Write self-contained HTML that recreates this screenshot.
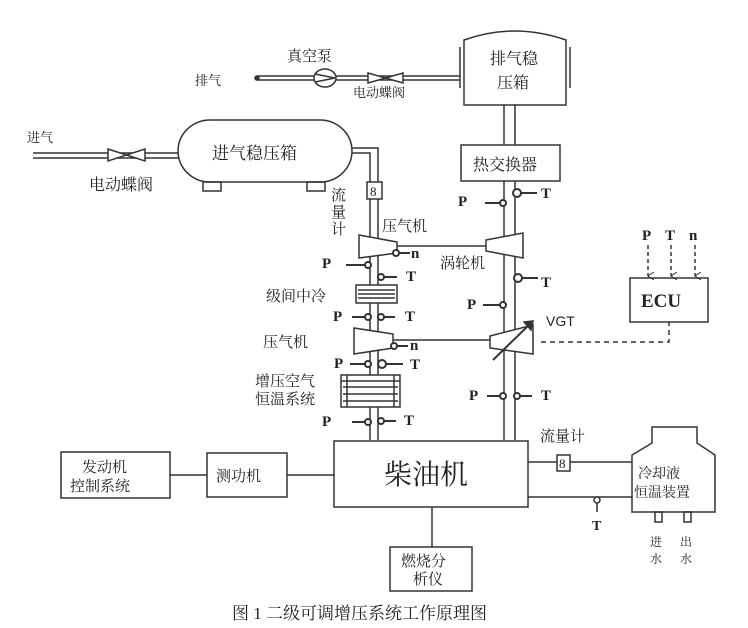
<!DOCTYPE html>
<html><head><meta charset="utf-8"><style>
html,body{margin:0;padding:0;background:#fff;}
svg{display:block;}
text{font-family:"Liberation Serif","Noto Serif CJK SC","Noto Sans CJK SC",serif;fill:#222;}
.b{font-family:"Liberation Serif",serif;font-weight:bold;}
</style></head><body>
<svg width="748" height="628" viewBox="0 0 748 628" xmlns="http://www.w3.org/2000/svg">
<defs>
<marker id="ah" markerWidth="8" markerHeight="8" refX="4" refY="6" orient="auto" markerUnits="userSpaceOnUse">
<path d="M0,0 L4,6 L8,0" fill="none" stroke="#333" stroke-width="1"/></marker>
</defs>
<g stroke="#333" stroke-width="1.5" fill="none">
<line x1="33" y1="153" x2="178" y2="153"/><line x1="33" y1="158" x2="178" y2="158"/>
<path d="M108,149 L145,161 L145,149 L108,161 Z" fill="#fff"/>
<path d="M210,120 L320,120 A32,31 0 0 1 320,182 L210,182 A32,31 0 0 1 210,120 Z" fill="#fff"/>
<rect x="203" y="182" width="18" height="9"/><rect x="307" y="182" width="18" height="9"/>
<path d="M352,148 L378,148 L378,440"/><path d="M352,153 L370,153 L370,440"/>
<rect x="367" y="182" width="15" height="17" fill="#fff"/>
<line x1="257" y1="76" x2="460" y2="76"/><line x1="257" y1="80" x2="460" y2="80"/>
<circle cx="257" cy="78" r="2" fill="#333"/>
<ellipse cx="325" cy="78" rx="11" ry="9" fill="#fff"/><path d="M315,74 L335,78 L315,82"/>
<path d="M368,73 L403,83 L403,73 L368,83 Z" fill="#fff"/>
<path d="M464,105 L464,40 Q514,22 566,40 L566,105 Z" fill="#fff"/>
<line x1="460" y1="47" x2="460" y2="88"/><line x1="570" y1="47" x2="570" y2="88"/>
<line x1="504" y1="105" x2="504" y2="145"/><line x1="515" y1="105" x2="515" y2="145"/>
<rect x="461" y="145" width="99" height="36" fill="#fff"/>
<line x1="504" y1="181" x2="504" y2="440"/><line x1="515" y1="181" x2="515" y2="440"/>
<line x1="397" y1="246" x2="486" y2="246"/>
<path d="M359,235 L397,242 L397,253 L359,258 Z" fill="#fff"/>
<path d="M486,240 L523,233 L523,258 L486,251 Z" fill="#fff"/>
<rect x="356" y="285" width="41" height="18" fill="#fff"/>
<line x1="358" y1="290" x2="395" y2="290"/><line x1="358" y1="294" x2="395" y2="294"/><line x1="358" y1="298" x2="395" y2="298"/>
<line x1="393" y1="340" x2="490" y2="340"/>
<path d="M354,328 L393,334 L393,348 L354,354 Z" fill="#fff"/>
<path d="M490,336 L533,325 L533,354 L490,348 Z" fill="#fff"/>
<line x1="493" y1="360" x2="530" y2="324" stroke-width="2"/>
<path d="M524,322 L533,321 L531,330 Z" fill="#333"/>
<path d="M541,342 L669,342 L669,322" stroke-dasharray="5,4"/>
<rect x="341" y="375" width="59" height="32" fill="#fff"/>
<line x1="341" y1="381" x2="400" y2="381"/><line x1="343" y1="387" x2="398" y2="387"/><line x1="343" y1="394" x2="398" y2="394"/><line x1="343" y1="401" x2="398" y2="401"/>
<line x1="347" y1="375" x2="347" y2="407"/><line x1="394" y1="375" x2="394" y2="407"/>
<rect x="630" y="278" width="78" height="44"/>
<line x1="648" y1="245" x2="648" y2="276" stroke-dasharray="4,3" marker-end="url(#ah)"/>
<line x1="671" y1="245" x2="671" y2="276" stroke-dasharray="4,3" marker-end="url(#ah)"/>
<line x1="695" y1="245" x2="695" y2="276" stroke-dasharray="4,3" marker-end="url(#ah)"/>
<rect x="334" y="441" width="194" height="66" fill="#fff"/>
<rect x="61" y="452" width="109" height="46"/>
<rect x="207" y="453" width="80" height="44"/>
<line x1="170" y1="475" x2="207" y2="475"/><line x1="287" y1="475" x2="334" y2="475"/>
<line x1="432" y1="507" x2="432" y2="547"/>
<rect x="390" y="547" width="82" height="44"/>
<line x1="528" y1="462" x2="632" y2="462"/><rect x="557" y="455" width="13" height="16" fill="#fff"/>
<line x1="528" y1="497" x2="632" y2="497"/>
<line x1="597" y1="497" x2="597" y2="512"/><circle cx="597" cy="500" r="3" fill="#fff"/>
<path d="M652,427 L697,427 L697,443 L715,455 L715,512 L632,512 L632,455 L652,443 Z" fill="#fff"/>
<rect x="655" y="512" width="7" height="10"/><rect x="684" y="512" width="7" height="10"/>
</g>
<g stroke="#333" stroke-width="2" fill="#fff">
<path d="M346,265 L368,265"/><circle cx="368" cy="265" r="3"/>
<path d="M381,277 L397,277"/><circle cx="381" cy="277" r="3"/>
<path d="M395,253 L410,253"/><circle cx="396" cy="253" r="3"/>
<path d="M352,317 L368,317"/><circle cx="368" cy="317" r="3"/>
<path d="M381,317 L395,317"/><circle cx="381" cy="317" r="3"/>
<path d="M392,346 L408,346"/><circle cx="394" cy="346" r="3"/>
<path d="M350,364 L368,364"/><circle cx="368" cy="364" r="3"/>
<path d="M381,364 L403,364"/><circle cx="382" cy="364" r="4"/>
<path d="M352,422 L368,422"/><circle cx="368" cy="422" r="3"/>
<path d="M381,421 L396,421"/><circle cx="381" cy="421" r="3"/>
<path d="M485,203 L503,203"/><circle cx="503" cy="203" r="3"/>
<path d="M518,193 L537,193"/><circle cx="517" cy="193" r="4"/>
<path d="M518,278 L538,278"/><circle cx="518" cy="278" r="4"/>
<path d="M483,305 L503,305"/><circle cx="503" cy="305" r="3"/>
<path d="M487,396 L503,396"/><circle cx="503" cy="396" r="3"/>
<path d="M517,396 L532,396"/><circle cx="517" cy="396" r="3"/>
</g>
<g font-size="13">
<text x="195" y="85">排气</text>
<text x="27" y="142">进气</text>
</g>
<text x="287" y="61" font-size="15">真空泵</text>
<text x="353" y="97" font-size="13">电动蝶阀</text>
<text x="490" y="64" font-size="16">排气稳</text>
<text x="497" y="88" font-size="16">压箱</text>
<text x="212" y="159" font-size="17">进气稳压箱</text>
<text x="89" y="190" font-size="16">电动蝶阀</text>
<text x="473" y="170" font-size="16">热交换器</text>
<text x="331" y="200" font-size="15">流</text><text x="331" y="217" font-size="15">量</text><text x="331" y="234" font-size="15">计</text>
<text x="382" y="231" font-size="15">压气机</text>
<text x="440" y="268" font-size="15">涡轮机</text>
<text x="266" y="301" font-size="15">级间中冷</text>
<text x="263" y="347" font-size="15">压气机</text>
<text x="255" y="386" font-size="15">增压空气</text>
<text x="255" y="404" font-size="15">恒温系统</text>
<g class="b" font-size="15">
<text x="322" y="268">P</text><text x="406" y="281">T</text><text x="411" y="258">n</text>
<text x="333" y="321">P</text><text x="405" y="321">T</text><text x="410" y="350">n</text>
<text x="334" y="368">P</text><text x="410" y="369">T</text>
<text x="322" y="426">P</text><text x="404" y="425">T</text>
<text x="458" y="206">P</text><text x="541" y="198">T</text>
<text x="541" y="287">T</text><text x="467" y="309">P</text>
<text x="469" y="400">P</text><text x="541" y="400">T</text>
<text x="642" y="240">P</text><text x="665" y="240">T</text><text x="689" y="240">n</text>
<text x="592" y="530" font-size="14">T</text>
</g>
<text x="546" y="326" font-size="14" style="font-family:'Liberation Sans',sans-serif">VGT</text>
<text x="641" y="307" font-size="19" class="b">ECU</text>
<text x="384" y="484" font-size="28">柴油机</text>
<text x="82" y="472" font-size="15">发动机</text>
<text x="70" y="491" font-size="15">控制系统</text>
<text x="216" y="481" font-size="15">测功机</text>
<text x="540" y="441" font-size="15">流量计</text>
<text x="559" y="468" font-size="13">8</text>
<text x="370" y="196" font-size="13">8</text>
<text x="638" y="478" font-size="14">冷却液</text>
<text x="634" y="497" font-size="14">恒温装置</text>
<text x="650" y="546" font-size="12">进</text><text x="680" y="546" font-size="12">出</text>
<text x="650" y="563" font-size="12">水</text><text x="680" y="563" font-size="12">水</text>
<text x="401" y="566" font-size="15">燃烧分</text>
<text x="413" y="584" font-size="15">析仪</text>
<text x="232" y="619" font-size="17">图 1 二级可调增压系统工作原理图</text>
</svg>
</body></html>
